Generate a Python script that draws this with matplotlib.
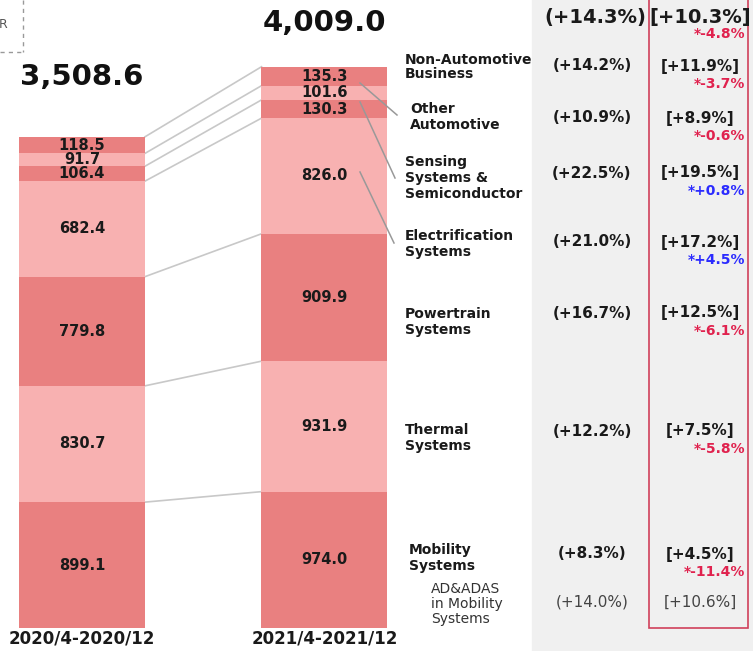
import numpy as np
import matplotlib.pyplot as plt
from matplotlib.patches import Rectangle

# segment values, bottom -> top
periods = ["2020/4-2020/12", "2021/4-2021/12"]
prev_vals = [899.1, 830.7, 779.8, 682.4, 106.4, 91.7, 118.5]
curr_vals = [974.0, 931.9, 909.9, 826.0, 130.3, 101.6, 135.3]
totals = [3508.6, 4009.0]

segments = ["Mobility\nSystems", "Thermal\nSystems", "Powertrain\nSystems",
            "Electrification\nSystems", "Sensing\nSystems &\nSemiconductor",
            "Other\nAutomotive", "Non-Automotive\nBusiness"]
yoy_nominal = ["(+8.3%)", "(+12.2%)", "(+16.7%)", "(+21.0%)", "(+22.5%)",
               "(+10.9%)", "(+14.2%)"]
yoy_real = ["[+4.5%]", "[+7.5%]", "[+12.5%]", "[+17.2%]", "[+19.5%]",
            "[+8.9%]", "[+11.9%]"]
vs_plan = ["*-11.4%", "*-5.8%", "*-6.1%", "*+4.5%", "*+0.8%", "*-0.6%", "*-3.7%"]
total_nominal, total_real, total_plan = "(+14.3%)", "[+10.3%]", "*-4.8%"
adas_label = "AD&ADAS\nin Mobility\nSystems"
adas_nominal, adas_real = "(+14.0%)", "[+10.6%]"

DARK = "#e98080"
LIGHT = "#f8b1b1"
RED = "#e0224e"
BLUE = "#2b2bff"
colors = [DARK, LIGHT, DARK, LIGHT, DARK, LIGHT, DARK]

W, H = 753, 651
fig = plt.figure(figsize=(W / 100, H / 100), dpi=100)

# bar axes: x in pixels, y in values (0.14 px per unit, baseline at 628 px)
ax = fig.add_axes([0, 0, 1, 1])
ax.set_xlim(0, W)
ppu = 0.14
ax.set_ylim(-(H - 628) / ppu, 628 / ppu)
ax.axis("off")

# overlay in pixel units for the labels and the table part
ov = fig.add_axes([0, 0, 1, 1])
ov.set_xlim(0, W)
ov.set_ylim(H, 0)
ov.axis("off")

ax.add_patch(Rectangle((532, -1000), W - 532 + 1, 10000, color="#f0f0f0", zorder=0))
ov.add_patch(Rectangle((649, -2), 99, 630, fill=False, ec="#d0405a", lw=1.2, zorder=2))

# dashed box corner in the top left
ov.plot([23, 23], [0, 52], ls=(0, (3, 3)), color="#999999", lw=1)
ov.plot([0, 23], [52, 52], ls=(0, (3, 3)), color="#999999", lw=1)
ov.text(-1, 24, "R", fontsize=9, color="#555555", va="center", ha="left")

xc = [82, 324.5]
bw = 126
total_gap = [430, 315]
for i, vals in enumerate([prev_vals, curr_vals]):
    bottoms = np.concatenate([[0], np.cumsum(vals)[:-1]])
    ax.bar([xc[i]] * len(vals), vals, bottom=bottoms, width=bw, color=colors,
           linewidth=0, zorder=2)
    for v, b in zip(vals, bottoms):
        ax.text(xc[i], b + v / 2, f"{v:.1f}", ha="center", va="center",
                fontsize=10.5, fontweight="bold", color="#1a1a1a", zorder=3)
    ax.text(xc[i], -12, periods[i], ha="center", va="top", fontsize=12,
            fontweight="bold", color="#1a1a1a")
    ax.text(xc[i], totals[i] + total_gap[i], f"{totals[i]:,.1f}", ha="center",
            va="center", fontsize=21, fontweight="bold", color="#111111")

# connecting lines between the segment boundaries
cp = np.cumsum(prev_vals)
cc = np.cumsum(curr_vals)
for a, b in zip(cp, cc):
    ax.plot([xc[0] + bw / 2, xc[1] - bw / 2], [a, b], color="#c8c8c8", lw=1.2,
            zorder=1)

# segment names to the right of the current bar
name_y = [558, 438, 322, 244, 178, 117, 67]
name_x = [409, 405, 405, 405, 405, 410, 405]
name_ls = [1.2, 1.2, 1.2, 1.2, 1.2, 1.2, 0.95]
for s, x, y, ls in zip(segments, name_x, name_y, name_ls):
    ov.text(x, y, s, ha="left", va="center", fontsize=10, fontweight="bold",
            color="#1a1a1a", linespacing=ls)
ov.text(431, 604, adas_label, ha="left", va="center", fontsize=10,
        color="#333333", linespacing=1.05)

# leader lines from the small segments to their names
leaders = [((360, 83), (397, 115)), ((360, 102), (395, 178)),
           ((360, 172), (394, 243))]
for (x0, y0), (x1, y1) in leaders:
    ov.plot([x0, x1], [y0, y1], color="#999999", lw=1.1, zorder=4)

# growth table
row_y = [554, 431, 313, 242, 173, 118, 66]
for y, n, r, p in zip(row_y, yoy_nominal, yoy_real, vs_plan):
    ov.text(592, y, n, ha="center", va="center", fontsize=11,
            fontweight="bold", color="#1a1a1a")
    ov.text(700, y, r, ha="center", va="center", fontsize=11,
            fontweight="bold", color="#1a1a1a")
    ov.text(745, y + 18, p, ha="right", va="center", fontsize=10,
            fontweight="bold", color=BLUE if "+" in p else RED)

ov.text(595, 18, total_nominal, ha="center", va="center", fontsize=14,
        fontweight="bold", color="#1a1a1a")
ov.text(700, 18, total_real, ha="center", va="center", fontsize=14,
        fontweight="bold", color="#1a1a1a")
ov.text(745, 34, total_plan, ha="right", va="center", fontsize=10,
        fontweight="bold", color=RED)

ov.text(592, 602, adas_nominal, ha="center", va="center", fontsize=11,
        color="#444444")
ov.text(700, 602, adas_real, ha="center", va="center", fontsize=11,
        color="#444444")

fig.savefig("out.png", dpi=100)
